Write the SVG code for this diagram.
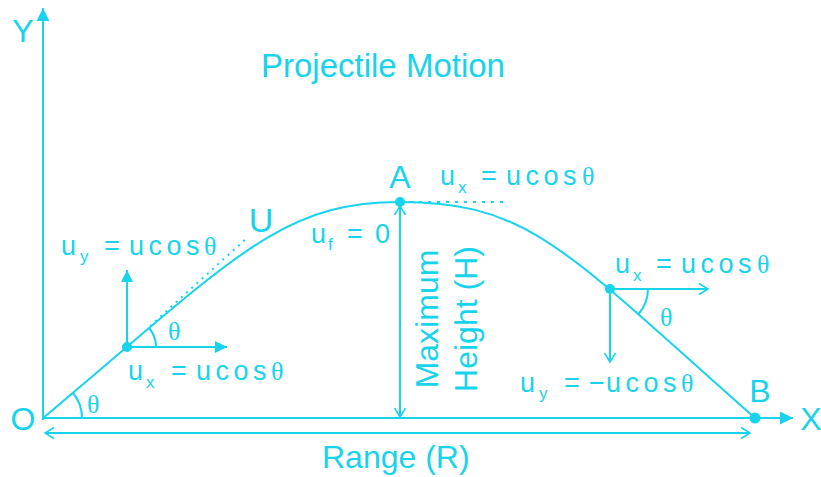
<svg xmlns="http://www.w3.org/2000/svg" width="821" height="477" viewBox="0 0 821 477">
<style>
text{font-family:"Liberation Sans",Arial,sans-serif;fill:#17d3ec}
.big{font-size:32px}
.lb{font-size:27px}
.sb{font-size:17px}
.ls{letter-spacing:4.5px}
.th{font-family:"Liberation Serif","Times New Roman",serif;font-size:26px}
.ln{stroke:#17d3ec;fill:none;stroke-width:2}
</style>
<defs>
<marker id="fa" markerUnits="userSpaceOnUse" markerWidth="14" markerHeight="14" refX="13" refY="7" orient="auto-start-reverse" viewBox="0 0 14 14">
<path d="M0,0.5 L13,7 L0,13.5 z" fill="#17d3ec"/>
</marker>
<marker id="fs" markerUnits="userSpaceOnUse" markerWidth="13" markerHeight="13" refX="12" refY="6.5" orient="auto-start-reverse" viewBox="0 0 13 13">
<path d="M0,0.5 L12,6.5 L0,12.5 z" fill="#17d3ec"/>
</marker>
<marker id="op" markerUnits="userSpaceOnUse" markerWidth="12" markerHeight="14" refX="10" refY="7" orient="auto-start-reverse" viewBox="0 0 12 14">
<path d="M1,1.5 L10,7 L1,12.5" fill="none" stroke="#17d3ec" stroke-width="1.5"/>
</marker>
</defs>

<g id="connectors">
<line id="y-axis" class="ln" x1="43" y1="420" x2="43" y2="8" stroke-width="2.5" marker-end="url(#fa)"/>
<line id="x-axis" class="ln" x1="42" y1="418" x2="793" y2="418" stroke-width="3" marker-end="url(#fa)"/>
<path id="trajectory" class="ln" stroke-width="2.5" d="M43,418 C233,258.6 280,202 400,202 C530,202 565,250.2 755,418"/>
<line id="range" class="ln" x1="45" y1="433" x2="750" y2="433" stroke-width="1.8" marker-start="url(#op)" marker-end="url(#op)"/>
<line id="max-height" class="ln" x1="400" y1="206" x2="400" y2="417" stroke-width="2" marker-start="url(#op)" marker-end="url(#op)"/>
<line id="tangent-left" class="ln" x1="150" y1="326" x2="248" y2="237" stroke-width="2" stroke-dasharray="2 5"/>
<line id="tangent-top" class="ln" x1="410" y1="202" x2="503" y2="202" stroke-width="2.5" stroke-dasharray="3 6"/>
<line id="vy-left" class="ln" x1="127" y1="347" x2="127" y2="270" stroke-width="2" marker-end="url(#fs)"/>
<line id="vx-left" class="ln" x1="127" y1="347" x2="227" y2="347" stroke-width="2" marker-end="url(#fs)"/>
<line id="vx-right" class="ln" x1="610" y1="289" x2="708" y2="289" stroke-width="2" marker-end="url(#op)"/>
<line id="vy-right" class="ln" x1="610" y1="289" x2="610" y2="362" stroke-width="2" marker-end="url(#op)"/>
<path id="arc-o" class="ln" d="M82,418 A39,39 0 0 0 73,393"/>
<path id="arc-left" class="ln" d="M156,347 A29,29 0 0 0 149,328"/>
<path id="arc-right" class="ln" d="M648,289 A38,38 0 0 1 638.5,314"/>
</g>

<g id="title"><text x="261" y="77" style="font-size:33px">Projectile Motion</text></g>
<g id="label-Y"><text class="big" x="23" y="42" text-anchor="middle">Y</text></g>
<g id="label-X"><text class="big" x="811" y="430" text-anchor="middle">X</text></g>
<g id="node-O"><text class="big" x="23" y="430" text-anchor="middle">O</text><text class="th" x="87" y="413">θ</text></g>

<g id="node-left">
<circle cx="127" cy="347" r="5" fill="#17d3ec"/>
<text class="th" x="168" y="340">θ</text>
<text class="lb" y="380"><tspan x="128">u</tspan><tspan class="sb" x="146" y="388">x</tspan><tspan x="171" y="380">=</tspan><tspan x="196" class="ls">uco</tspan><tspan>s</tspan></text>
<text class="th" x="271" y="380">θ</text>
<text class="lb" y="255"><tspan x="61">u</tspan><tspan class="sb" x="80" y="262">y</tspan><tspan x="104" y="255">=</tspan><tspan x="129" class="ls">uco</tspan><tspan>s</tspan></text>
<text class="th" x="204" y="255">θ</text>
</g>

<g id="node-U"><text style="font-size:34px" x="261" y="232" text-anchor="middle">U</text></g>

<g id="node-A">
<circle cx="400" cy="202" r="5" fill="#17d3ec"/>
<text class="big" x="400" y="188" text-anchor="middle">A</text>
<text class="lb" y="185"><tspan x="440">u</tspan><tspan class="sb" x="458" y="193">x</tspan><tspan x="481" y="185">=</tspan><tspan x="506" class="ls">uco</tspan><tspan>s</tspan></text>
<text class="th" x="582" y="185">θ</text>
<text class="lb" y="243"><tspan x="311">u</tspan><tspan class="sb" x="328" y="250">f</tspan><tspan x="347" y="243">=</tspan><tspan x="375">0</tspan></text>
</g>

<g id="label-height">
<text class="big" text-anchor="middle" transform="translate(438,319) rotate(-90)">Maximum</text>
<text class="big" text-anchor="middle" transform="translate(477,319) rotate(-90)">Height (H)</text>
</g>

<g id="node-right">
<circle cx="610" cy="289" r="5" fill="#17d3ec"/>
<text class="th" x="660" y="326">θ</text>
<text class="lb" y="273"><tspan x="615">u</tspan><tspan class="sb" x="633" y="281">x</tspan><tspan x="656" y="273">=</tspan><tspan x="681" class="ls">uco</tspan><tspan>s</tspan></text>
<text class="th" x="757" y="273">θ</text>
<text class="lb" y="392"><tspan x="520">u</tspan><tspan class="sb" x="539" y="399">y</tspan><tspan x="564" y="392">=</tspan><tspan x="589">−</tspan><tspan x="606" class="ls">uco</tspan><tspan>s</tspan></text>
<text class="th" x="681" y="392">θ</text>
</g>

<g id="node-B">
<circle cx="755" cy="418" r="5.5" fill="#17d3ec"/>
<text class="big" x="760" y="402" text-anchor="middle">B</text>
</g>

<g id="label-range"><text class="big" x="322" y="468">Range (R)</text></g>
</svg>
